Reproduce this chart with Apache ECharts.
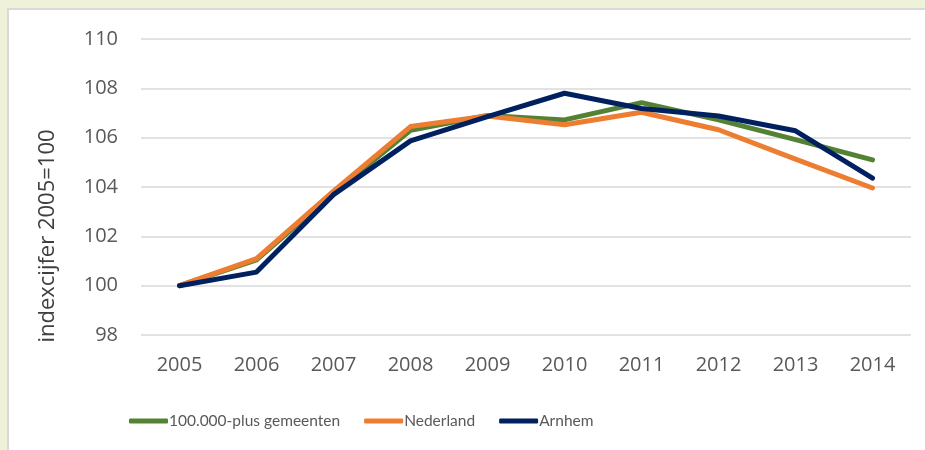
<!DOCTYPE html>
<html>
<head>
<meta charset="utf-8">
<script src="https://cdn.jsdelivr.net/npm/echarts@6/dist/echarts.min.js"></script>
<style>
  html, body { margin: 0; padding: 0; background: #eff2d8; }
  #chart { width: 925px; height: 450px; }
</style>
</head>
<body>
<div id="chart"></div>
<script>
// data
var years = ['2005', '2006', '2007', '2008', '2009', '2010', '2011', '2012', '2013', '2014'];
var plus100k = [100, 101.05, 103.75, 106.3, 106.9, 106.72, 107.42, 106.72, 105.92, 105.1];
var nederland = [100, 101.1, 103.83, 106.45, 106.88, 106.52, 107.03, 106.32, 105.13, 103.96];
var arnhem = [100, 100.55, 103.69, 105.87, 106.85, 107.8, 107.18, 106.88, 106.28, 104.36];

var seriesNames = ['100.000-plus gemeenten', 'Nederland', 'Arnhem'];
var seriesColors = ['#548235', '#ed7d31', '#002060'];
var seriesData = [plus100k, nederland, arnhem];

var font = 'Open Sans, sans-serif';
var chart = echarts.init(document.getElementById('chart'));

var option = {
  backgroundColor: '#eff2d8',
  animation: false,
  textStyle: { fontFamily: font },
  graphic: [
    {
      type: 'rect',
      z: -10,
      shape: { x: 8, y: 9, width: 940, height: 460 },
      style: { fill: '#ffffff', stroke: '#d9d9d9', lineWidth: 2 }
    },
    {
      // y axis title
      type: 'text',
      x: 48,
      y: 236,
      rotation: Math.PI / 2,
      style: {
        text: 'indexcijfer 2005=100',
        font: '22px ' + font,
        fill: '#404040',
        align: 'center',
        verticalAlign: 'middle'
      }
    }
  ],
  legend: {
    data: seriesNames,
    top: 408,
    left: 124,
    icon: 'roundRect',
    itemWidth: 39,
    itemHeight: 5,
    itemGap: 24,
    textStyle: { color: '#595959', fontSize: 15.5, fontFamily: 'Lato, sans-serif', padding: [0, 0, 0, -4] }
  },
  grid: { left: 141, right: 14, top: 39, bottom: 115 },
  xAxis: {
    type: 'category',
    data: years,
    boundaryGap: true,
    axisLine: { show: false },
    axisTick: { show: false },
    axisLabel: { color: '#595959', fontSize: 20, margin: 20 }
  },
  yAxis: {
    type: 'value',
    min: 98,
    max: 110,
    interval: 2,
    axisLine: { show: false },
    axisTick: { show: false },
    axisLabel: { color: '#595959', fontSize: 20, margin: 23 },
    splitLine: { lineStyle: { color: '#d9d9d9', width: 1.5 } }
  },
  series: seriesNames.map(function (name, i) {
    return {
      name: name,
      type: 'line',
      data: seriesData[i],
      symbol: 'none',
      color: seriesColors[i],
      lineStyle: { width: 5, color: seriesColors[i], cap: 'round', join: 'round' }
    };
  })
};

chart.setOption(option);
</script>
</body>
</html>
